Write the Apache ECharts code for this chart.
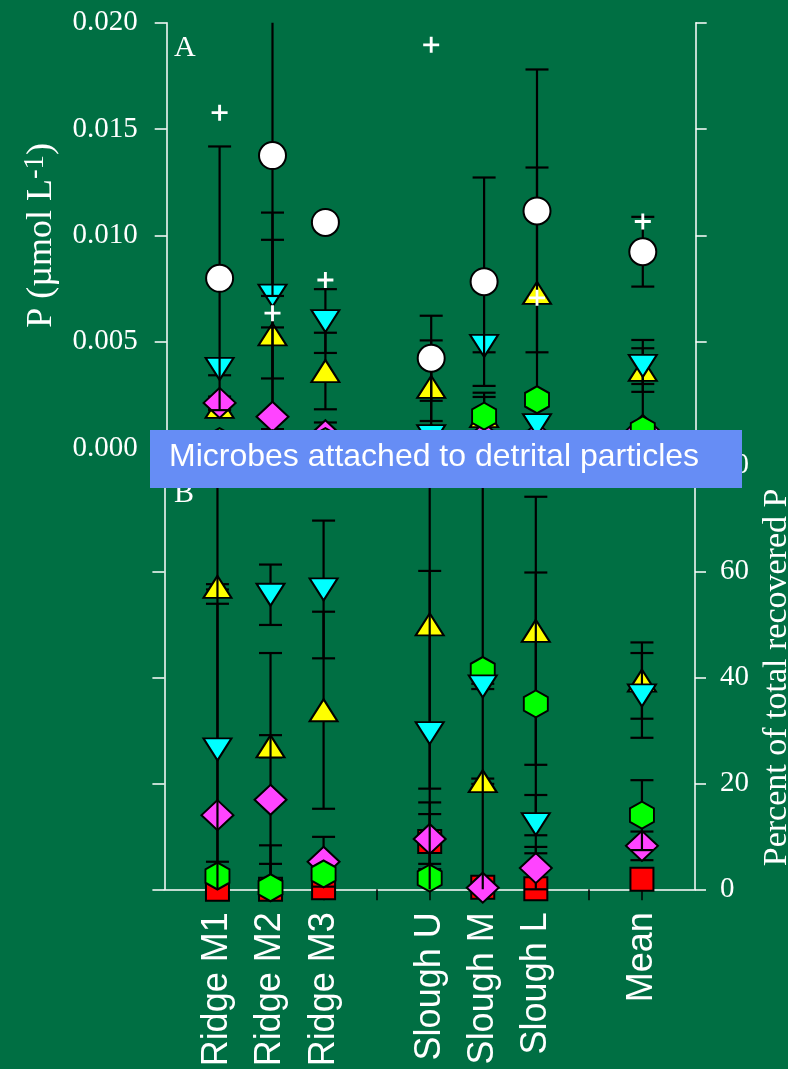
<!DOCTYPE html>
<html><head><meta charset="utf-8">
<script src="https://cdn.jsdelivr.net/npm/echarts@6/dist/echarts.min.js"></script>
<style>html,body{margin:0;padding:0;background:#006F43}#c{width:788px;height:1069px}</style>
</head><body><div id="c"></div>
<script>
// ---------- data ----------
const categories = ['Ridge M1','Ridge M2','Ridge M3','Slough U','Slough M','Slough L','Mean'];
const positions = [1,2,3,5,6,7,9];       // slot of each category on the 0..10 axis
const slotCount = 11;

// Panel A: P (µmol L-1)
const aTotal     = [0.00798,0.01375,0.01061,0.00422,0.00782,0.01115,0.00923];
const aTotalSE   = [0.0062, 0.0066, 0.0003, 0.0020, 0.0049, 0.00665,0.00164];
const aPlus      = [0.01577,0.00634,0.00790,0.01896,null,   0.00706,0.01065];
const aCyan      = [0.00372,0.00717,0.00597,0.00056,0.00480,0.00108,0.00386];
const aCyanSE    = [0.0003, 0.0039, 0.0015, 0.0045, 0.0003, 0.0003, 0.00122];
const aYellow    = [0.00193,0.00534,0.00362,0.00287,0.00150,0.00729,0.00367];
const aYellowSE  = [0.0003, 0.00445,0.0018, 0.0016, 0.0009, 0.0059, 0.00066];
const aMagenta   = [0.00212,0.00147,0.00060,0.00040,0.00050,0.00050,0.00085];
const aMagentaSE = [0.0003, 0.0042, 0.0006, 0.0003, 0.0003, 0.0003, 0.00384];
const aGreen     = [0.00030,0.00020,0.00030,0.00020,0.00150,0.00227,0.00085];
const aGreenSE   = [0.0002, 0.0002, 0.0002, 0.0002, 0.0011, 0.0003, 0.0003];
const aRed       = [0.00005,0.00005,0.00005,0.00010,0.00005,0.00005,0.00005];
const aRedSE     = [0.00005,0.00005,0.00005,0.00005,0.00005,0.00005,0.00005];

// Panel B: percent of total recovered P
const bCyan      = [26.4, 55.6, 56.6, 29.5, 38.3, 12.3, 36.6];
const bCyanSE    = [27.5,  5.7, 13.0, 30.6,  0.5,  5.5,  8.0];
const bYellow    = [57.1, 27.0, 33.8, 50.0, 20.4, 48.8, 39.4];
const bYellowSE  = [ 0.5,  2.1, 18.6, 31.0,  0.5, 25.3,  7.2];
const bMagenta   = [14.0, 16.9,  5.2,  9.5,  0.3,  4.0,  8.2];
const bMagentaSE = [70.0, 27.7,  4.7,  6.9,  0.3,  4.0,  2.7];
const bGreen     = [ 2.5,  0.3,  2.9,  2.1, 41.3, 35.0, 14.0];
const bGreenSE   = [ 2.7,  8.0,  0.5,  2.7, 45.0, 24.8,  6.6];
const bRed       = [ 0.0,  0.0,  0.3,  9.0,  0.4,  0.1,  1.9];
const bRedSE     = [ 0.0,  4.8,  0.0,  5.2,  0.0,  0.0,  0.5];

const aTicks = [0, 0.020, 0.005];   // min, max, interval
const bTicks = [0, 80, 20];

// ---------- build ----------
const slotLabels = Array.from({length: slotCount}, () => '');
positions.forEach((p, i) => { slotLabels[p] = categories[i]; });

const WHITE = '#ffffff';
const serif = "'Liberation Serif','Times New Roman',serif";
const sans = "'Liberation Sans',Arial,sans-serif";

const HEX = 'path://M0,-1L0.866,-0.5L0.866,0.5L0,1L-0.866,0.5L-0.866,-0.5Z';
const PLUS = 'path://M-0.18,-1L0.18,-1L0.18,-0.18L1,-0.18L1,0.18L0.18,0.18L0.18,1L-0.18,1L-0.18,0.18L-1,0.18L-1,-0.18L-0.18,-0.18Z';

const styles = {
  red:     {symbol: 'rect', size: 23, color: '#ff0000'},
  yellow:  {symbol: 'triangle', size: [28, 22], color: '#ffff00'},
  magenta: {symbol: 'diamond', size: [32, 30], color: '#ff44ff'},
  green:   {symbol: HEX, size: [24, 27], color: '#00ff00'},
  cyan:    {symbol: 'triangle', size: [28, 22], color: '#00ffff', rotate: 180},
  white:   {symbol: 'circle', size: 27, color: '#ffffff'},
  plus:    {symbol: PLUS, size: 16, color: '#ffffff', noBorder: true}
};

function errRender(params, api) {
  const x = api.value(0), v = api.value(1), se = api.value(2);
  if (!(se > 0)) return null;
  const cs = params.coordSys;
  const yMin = cs.y, yMax = cs.y + cs.height;
  const c = api.coord([x, v]);
  const yHi = api.coord([x, v + se])[1];
  const yLo = api.coord([x, v - se])[1];
  const st = {stroke: '#000', lineWidth: 2.2};
  const top = Math.max(yHi, yMin), bot = Math.min(yLo, yMax);
  const ch = [];
  if (bot > top) ch.push({type: 'line', shape: {x1: c[0], y1: top, x2: c[0], y2: bot}, style: st});
  const hw = 11.5;
  if (yHi >= yMin - 0.5) ch.push({type: 'line', shape: {x1: c[0]-hw, y1: yHi, x2: c[0]+hw, y2: yHi}, style: st});
  if (yLo <= yMax + 0.5) ch.push({type: 'line', shape: {x1: c[0]-hw, y1: yLo, x2: c[0]+hw, y2: yLo}, style: st});
  return {type: 'group', children: ch};
}

const series = [];
let zc = 2;
function addGroup(xi, yi, vals, ses, st) {
  if (ses) {
    series.push({
      type: 'custom', xAxisIndex: xi, yAxisIndex: yi, z: zc++, silent: true,
      renderItem: errRender,
      data: vals.map((v, i) => v == null ? null : [positions[i], v, ses[i]]).filter(d => d)
    });
  }
  series.push({
    type: 'scatter', xAxisIndex: xi, yAxisIndex: yi, z: zc++, clip: false, silent: true,
    symbol: st.symbol, symbolSize: st.size, symbolRotate: st.rotate || 0,
    itemStyle: {color: st.color, borderColor: '#000', borderWidth: st.noBorder ? 0 : 2, opacity: 1},
    data: vals.map((v, i) => v == null ? null : [positions[i], v]).filter(d => d)
  });
}
// panel A (drawing order bottom -> top)
addGroup(0, 0, aRed, aRedSE, styles.red);
addGroup(0, 0, aYellow, aYellowSE, styles.yellow);
addGroup(0, 0, aMagenta, aMagentaSE, styles.magenta);
addGroup(0, 0, aGreen, aGreenSE, styles.green);
addGroup(0, 0, aCyan, aCyanSE, styles.cyan);
addGroup(0, 0, aTotal, aTotalSE, styles.white);
addGroup(0, 0, aPlus, null, styles.plus);
// panel B
addGroup(1, 3, bRed, bRedSE, styles.red);
addGroup(1, 3, bYellow, bYellowSE, styles.yellow);
addGroup(1, 3, bMagenta, bMagentaSE, styles.magenta);
addGroup(1, 3, bGreen, bGreenSE, styles.green);
addGroup(1, 3, bCyan, bCyanSE, styles.cyan);

const axLine = {show: true, lineStyle: {color: WHITE, width: 1.5}};
const tickOut = (len) => ({show: true, inside: false, length: len, lineStyle: {color: WHITE, width: 1.5}});

const option = {
  backgroundColor: '#006F43',
  animation: false,
  grid: [
    {left: 166.7, right: 92.3, top: 22.7, bottom: 621, containLabel: false, outerBoundsMode: 'none'},
    {left: 164.4, right: 93, top: 465.5, bottom: 179.7, containLabel: false, outerBoundsMode: 'none'}
  ],
  xAxis: [
    {type: 'category', gridIndex: 0, data: slotLabels, boundaryGap: false, position: 'top',
     axisLine: axLine, axisTick: {show: false}, axisLabel: {show: false}, splitLine: {show: false}},
    {type: 'category', gridIndex: 1, data: slotLabels, boundaryGap: false, position: 'bottom',
     axisLine: axLine,
     axisTick: {show: true, inside: false, length: 11, lineStyle: {color: '#000', width: 1.5},
                interval: (idx) => idx >= 1 && idx <= slotCount - 2},
     axisLabel: {show: true, interval: 0, rotate: 90, margin: 23, color: WHITE,
                 fontFamily: sans, fontSize: 36},
     splitLine: {show: false}}
  ],
  yAxis: [
    {type: 'value', gridIndex: 0, position: 'left', min: aTicks[0], max: aTicks[1], interval: aTicks[2],
     axisLine: axLine, axisTick: tickOut(12), splitLine: {show: false},
     axisLabel: {color: WHITE, fontFamily: serif, fontSize: 29, margin: 29,
                 formatter: v => v.toFixed(3)},
     name: '{a|P (µmol L}{s|-1}{a|)}', nameLocation: 'middle', nameRotate: 90, nameGap: 105,
     nameTextStyle: {color: WHITE, fontFamily: serif, fontSize: 36,
       rich: {a: {color: WHITE, fontFamily: serif, fontSize: 36},
              s: {color: WHITE, fontFamily: serif, fontSize: 29, verticalAlign: 'top', padding: [0,0,12,0]}}}},
    {type: 'value', gridIndex: 0, position: 'right', min: aTicks[0], max: aTicks[1], interval: aTicks[2],
     axisLine: axLine, axisTick: tickOut(11), axisLabel: {show: false}, splitLine: {show: false}},
    {type: 'value', gridIndex: 1, position: 'left', min: bTicks[0], max: bTicks[1], interval: bTicks[2],
     axisLine: axLine, axisTick: tickOut(12), axisLabel: {show: false}, splitLine: {show: false}},
    {type: 'value', gridIndex: 1, position: 'right', min: bTicks[0], max: bTicks[1], interval: bTicks[2],
     axisLine: axLine, axisTick: tickOut(11), splitLine: {show: false},
     axisLabel: {color: WHITE, fontFamily: serif, fontSize: 29, margin: 25},
     name: 'Percent of total recovered P', nameLocation: 'middle', nameRotate: 90, nameGap: 64,
     nameTextStyle: {color: WHITE, fontFamily: serif, fontSize: 34}}
  ],
  graphic: [
    {type: 'text', left: 174, top: 33, z: 50, silent: true,
     style: {text: 'A', fill: WHITE, font: "30px 'Liberation Serif','Times New Roman',serif"}},
    {type: 'text', left: 174, top: 479, z: 50, silent: true,
     style: {text: 'B', fill: WHITE, font: "30px 'Liberation Serif','Times New Roman',serif"}},
    {type: 'rect', left: 150, top: 430, z: 100, silent: true,
     shape: {width: 592, height: 58}, style: {fill: '#668DF5'}},
    {type: 'text', left: 169, top: 441, z: 101, silent: true,
     style: {text: 'Microbes attached to detrital particles', fill: WHITE,
             font: "32px 'Liberation Sans',Arial,sans-serif"}}
  ],
  series: series
};

const chart = echarts.init(document.getElementById('c'), null, {renderer: 'canvas'});
chart.setOption(option);
</script>
</body></html>
